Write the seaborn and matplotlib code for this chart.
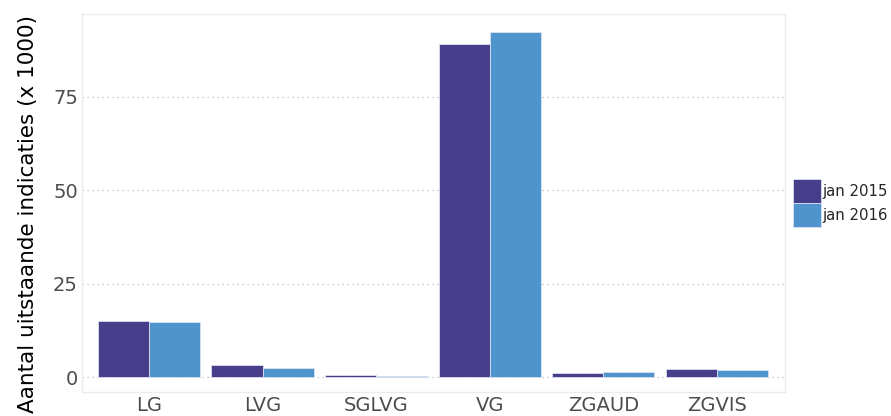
import pandas as pd
import numpy as np
import matplotlib
matplotlib.use("Agg")
import matplotlib.pyplot as plt
import seaborn as sns

# Data (x 1000)
categories = ["LG", "LVG", "SGLVG", "VG", "ZGAUD", "ZGVIS"]
jan_2015 = [15.0, 3.1, 0.5, 89.2, 1.2, 2.1]
jan_2016 = [14.7, 2.3, 0.4, 92.4, 1.3, 2.0]
series = ["jan 2015", "jan 2016"]
colors = ["#483D8B", "#4F94CD"]

df = pd.DataFrame({
    "categorie": categories * 2,
    "waarde": jan_2015 + jan_2016,
    "periode": [series[0]] * len(categories) + [series[1]] * len(categories),
})

sns.set_style("white")
plt.rcParams["font.family"] = ["DejaVu Sans"]

fig = plt.figure(figsize=(8.91, 4.16), dpi=100)
ax = fig.add_axes([82 / 891, 24 / 416, 703 / 891, 378 / 416])

sns.barplot(data=df, x="categorie", y="waarde", hue="periode",
            palette=colors, width=0.9, saturation=1,
            edgecolor="#d8e2f0", linewidth=0.6, ax=ax)

ax.set_xlim(-0.59, 5.6)
ax.set_ylim(-4.0, 97.2)
ax.set_yticks([0, 25, 50, 75])
ax.yaxis.grid(True, linestyle=(0, (1, 3)), color="#bbbbbb", linewidth=0.9)
ax.set_axisbelow(True)

for s in ax.spines.values():
    s.set_color("#ebebeb")
    s.set_linewidth(1.0)

ax.tick_params(axis="both", length=0, labelsize=14, colors="#4d4d4d", pad=3)
ax.set_xlabel("")
ax.set_ylabel("Aantal uitstaande indicaties (x 1000)", fontsize=15.5, color="black")
ax.yaxis.set_label_coords(-0.062, 0.47)

handles, labels = ax.get_legend_handles_labels()
ax.legend(handles, labels, loc="center left", bbox_to_anchor=(0.999, 0.50),
          frameon=False, fontsize=10.7, handlelength=1.9, handleheight=2.1,
          handletextpad=0.05, labelspacing=0.0, borderaxespad=0.2)

fig.savefig("out.png", dpi=100)
